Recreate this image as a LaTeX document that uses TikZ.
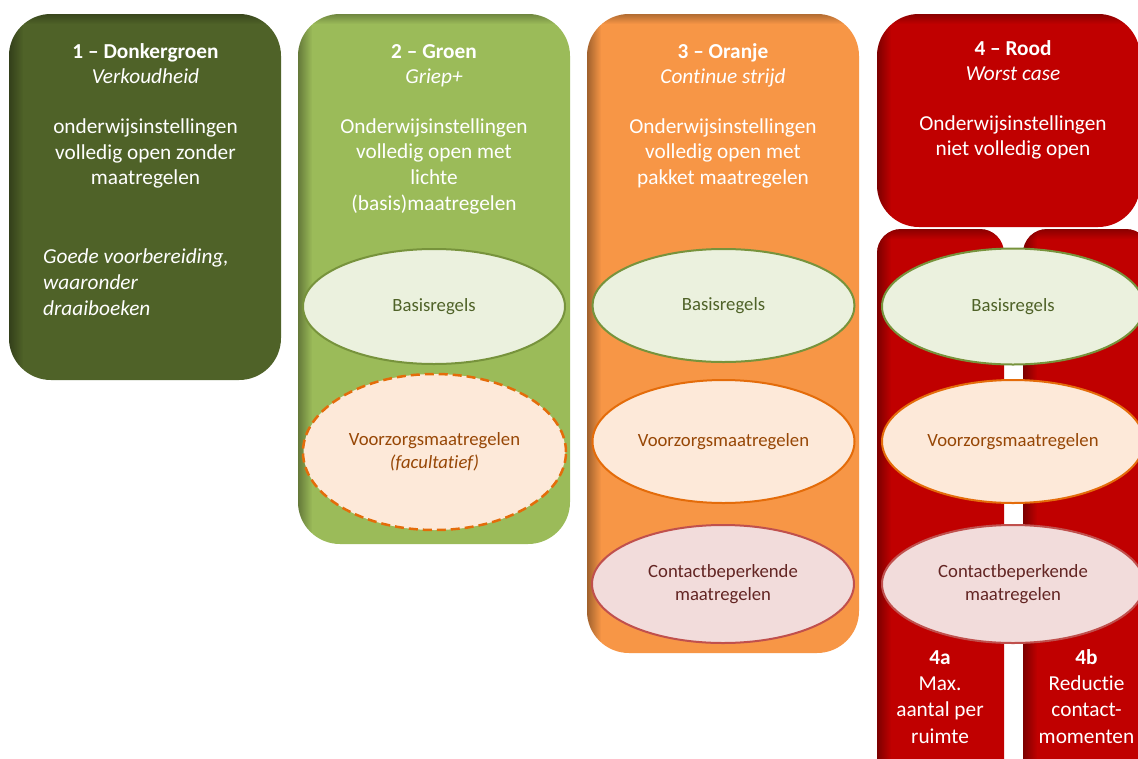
\documentclass[tikz,border=0pt]{standalone}
\usepackage{fontspec}
\setmainfont{Carlito}[Ligatures={NoCommon,TeX}]
\usetikzlibrary{shapes.geometric,fadings}
\definecolor{dkgreen}{RGB}{79,98,40}
\definecolor{ltgreen}{RGB}{155,187,89}
\definecolor{orangebox}{RGB}{247,150,70}
\definecolor{redbox}{RGB}{192,0,0}
\definecolor{elGfill}{RGB}{235,241,222}
\definecolor{elGline}{RGB}{119,147,60}
\definecolor{elOfill}{RGB}{253,233,217}
\definecolor{elOline}{RGB}{228,108,10}
\definecolor{elOtext}{RGB}{151,71,6}
\definecolor{elRfill}{RGB}{242,220,219}
\definecolor{elRline}{RGB}{192,80,77}
\definecolor{elRtext}{RGB}{99,37,35}
\tikzfading[name=fadeToRight, left color=transparent!0, right color=transparent!100]
\tikzfading[name=fadeToBottom, top color=transparent!0, bottom color=transparent!100]
\newcommand\boxbevel[5]{%
  \begin{scope}
    \clip[rounded corners=#5] (#1,#2) rectangle (#3,#4);
    \fill[black, opacity=0.35, path fading=fadeToRight] (#1,#2) rectangle (#1+14,#4);
    \fill[black, opacity=0.28, path fading=fadeToBottom] (#1,#2) rectangle (#3,#2+10);
  \end{scope}}
\tikzset{
  txt/.style={text=white, inner sep=0pt, anchor=base, font=\fontsize{21.3}{26}\selectfont},
  ttl/.style={txt, font=\fontsize{21.3}{26}\selectfont\bfseries},
  itl/.style={txt, font=\fontsize{21.3}{26}\selectfont\itshape},
  ell/.style={ellipse, line width=2pt, inner sep=0pt, align=center,
    minimum width=262pt, font=\fontsize{18.7}{23}\selectfont},
  ellG/.style={ell, fill=elGfill, draw=elGline, text=dkgreen},
  ellO/.style={ell, fill=elOfill, draw=elOline, text=elOtext},
  ellR/.style={ell, fill=elRfill, draw=elRline, text=elRtext},
}
\begin{document}
\begin{tikzpicture}[x=1pt, y=-1pt]
\clip (0,0) rectangle (1138,758);
\fill[white] (0,0) rectangle (1138,758);
% boxes
\fill[dkgreen, rounded corners=42pt] (9,14) rectangle (281,380);
\boxbevel{9}{14}{281}{380}{42pt}
\fill[ltgreen, rounded corners=42pt] (298,14) rectangle (570,544);
\boxbevel{298}{14}{570}{544}{42pt}
\fill[orangebox, rounded corners=42pt] (587,14) rectangle (859,653);
\boxbevel{587}{14}{859}{653}{42pt}
\fill[redbox, rounded corners=42pt] (877,14) rectangle (1140,227);
\boxbevel{877}{14}{1140}{227}{42pt}
\fill[redbox, rounded corners=24pt] (877,229) rectangle (1004,820);
\boxbevel{877}{229}{1004}{820}{24pt}
\fill[redbox, rounded corners=24pt] (1023,229) rectangle (1150,820);
\boxbevel{1023}{229}{1150}{820}{24pt}
% ellipses
\node[ellG, minimum height=115pt] (g2) at (434,306.5) {Basisregels};
\node[ellO, minimum height=156pt, draw=none] (o2) at (434.5,452) {Voorzorgsmaatregelen\\\textit{(facultatief)}};
\draw[elOline, line width=2.5pt, dash pattern=on 9pt off 5pt] (o2.center) ellipse [x radius=131.5pt, y radius=78pt];
\node[ellG, minimum height=113pt] (g3) at (723.5,305.5) {Basisregels};
\node[ellO, minimum height=123pt] (o3) at (723.5,441.5) {Voorzorgsmaatregelen};
\node[ellR, minimum height=118pt] (r3) at (723,584) {Contactbeperkende\\maatregelen};
\node[ellG, minimum height=116pt] (g4) at (1013,306.5) {Basisregels};
\node[ellO, minimum height=123pt] (o4) at (1013,441.5) {Voorzorgsmaatregelen};
\node[ellR, minimum height=118pt] (r4) at (1013,584) {Contactbeperkende\\maatregelen};
% column 1 texts
\node[ttl] (h1) at (145.5,58) {1 -- Donkergroen};
\node[itl] (s1) at (145.5,83.5) {Verkoudheid};
\node[txt] (a1) at (145.5,133.5) {onderwijsinstellingen};
\node[txt] (b1) at (145.5,159) {volledig open zonder};
\node[txt] (c1) at (145.5,184.5) {maatregelen};
\node[itl, anchor=base west] (d1) at (43,263) {Goede voorbereiding,};
\node[itl, anchor=base west] (e1) at (43,289) {waaronder};
\node[itl, anchor=base west] (f1) at (43,315) {draaiboeken};
% column 2 texts
\node[ttl] (h2) at (434,58) {2 -- Groen};
\node[itl] (s2) at (434,83.5) {Griep+};
\node[txt] (a2) at (434,133) {Onderwijsinstellingen};
\node[txt] (b2) at (434,158.5) {volledig open met};
\node[txt] (c2) at (434,184.5) {lichte};
\node[txt] (d2) at (434,210) {(basis)maatregelen};
% column 3 texts
\node[ttl] (h3) at (723,58) {3 -- Oranje};
\node[itl] (s3) at (723,83.5) {Continue strijd};
\node[txt] (a3) at (723,133) {Onderwijsinstellingen};
\node[txt] (b3) at (723,158.5) {volledig open met};
\node[txt] (c3) at (723,184.5) {pakket maatregelen};
% column 4 texts
\node[ttl] (h4) at (1013,55) {4 -- Rood};
\node[itl] (s4) at (1013,80.5) {Worst case};
\node[txt] (a4) at (1013,130) {Onderwijsinstellingen};
\node[txt] (b4) at (1013,155.5) {niet volledig open};
% 4a / 4b
\node[ttl] (h4a) at (940,664.5) {4a};
\node[txt] (a4a) at (940,690.5) {Max.};
\node[txt] (b4a) at (940,716.5) {aantal per};
\node[txt] (c4a) at (940,743) {ruimte};
\node[ttl] (h4b) at (1086.5,664.5) {4b};
\node[txt] (a4b) at (1086.5,690.5) {Reductie};
\node[txt] (b4b) at (1086.5,716.5) {contact-};
\node[txt] (c4b) at (1086.5,743) {momenten};
\end{tikzpicture}
\end{document}
